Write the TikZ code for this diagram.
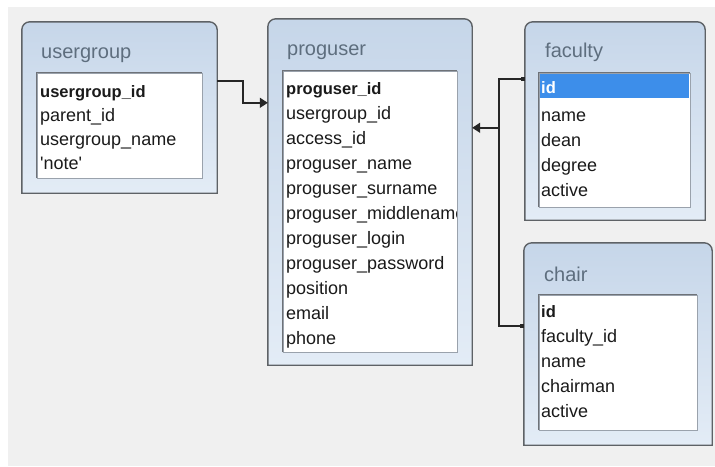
\documentclass[tikz,border=0pt]{standalone}
\usepackage{fontspec}
\setmainfont{Liberation Sans}
\usetikzlibrary{arrows.meta,calc}
\definecolor{bggray}{HTML}{F0F0F0}
\definecolor{boxtop}{HTML}{C6D6E9}
\definecolor{boxbot}{HTML}{E3ECF6}
\definecolor{boxline}{HTML}{5E6266}
\definecolor{titlecol}{HTML}{5E6E7E}
\definecolor{listline}{HTML}{9AA2AC}
\definecolor{listdark}{HTML}{6E7278}
\definecolor{selblue}{HTML}{3D8EEA}
\definecolor{rowtext}{HTML}{1A1A1A}
\newcommand\tblshape[1]{%
  \draw[tblborder] ([yshift=-8pt]#1.north west) arc[start angle=180,end angle=90,radius=8pt]
    -- ([xshift=-8pt]#1.north east) arc[start angle=90,end angle=0,radius=8pt]
    -- (#1.south east) -- (#1.south west) -- cycle;}
\begin{document}
\begin{tikzpicture}[x=1pt,y=-1pt,
  tblbox/.style={inner sep=0pt, draw=none},
  tblborder/.style={draw=boxline, line width=1.4pt, top color=boxtop, bottom color=boxbot},
  listbox/.style={inner sep=0pt, fill=white, draw=listline, line width=0.8pt},
  ttl/.style={anchor=west, inner sep=0pt, text=titlecol, font=\fontsize{20}{22}\selectfont},
  row/.style={anchor=west, inner sep=0pt, text height=12pt, text depth=0pt, text=rowtext, font=\fontsize{18}{20}\selectfont},
  keyrow/.style={row, font=\fontsize{16.5}{20}\selectfont\bfseries},
  conn/.style={draw=black!85, line width=1.5pt},
  dotstart/.style={{Square[length=4pt,width=4pt]}-},
  arr/.style={-{Triangle[length=8pt,width=10pt]}}
]
\useasboundingbox (0,0) rectangle (715,466);
\fill[white] (0,0) rectangle (715,466);
\fill[bggray] (8,7) rectangle (715,466);

% ---------- usergroup ----------
\node[tblbox, minimum width=195pt, minimum height=171pt] (usergroup) at (119.5,107.5) {};
\tblshape{usergroup}
\node[ttl] (usergroup-t) at (41,55) {usergroup};
\node[listbox, minimum width=165pt, minimum height=105pt] (usergroup-l) at (119.5,125.5) {};
\draw[listdark, line width=1pt] (usergroup-l.south west) -- (usergroup-l.north west) -- (usergroup-l.north east);
\node[keyrow] (ug1) at (40,91) {usergroup\_id};
\node[row] (ug2) at (40,115) {parent\_id};
\node[row] (ug3) at (40,139) {usergroup\_name};
\node[row] (ug4) at (40,163) {\textquotesingle note\textquotesingle};

% ---------- proguser ----------
\node[tblbox, minimum width=204pt, minimum height=346pt] (proguser) at (370,192) {};
\tblshape{proguser}
\node[ttl] (proguser-t) at (287,52) {proguser};
\node[listbox, minimum width=174pt, minimum height=281pt] (proguser-l) at (370,211.5) {};
\draw[listdark, line width=1pt] (proguser-l.south west) -- (proguser-l.north west) -- (proguser-l.north east);
\begin{scope}
\clip (283,71) rectangle (456,352);
\node[keyrow] (pu1) at (286,88) {proguser\_id};
\node[row] (pu2) at (286,113) {usergroup\_id};
\node[row] (pu3) at (286,138) {access\_id};
\node[row] (pu4) at (286,163) {proguser\_name};
\node[row] (pu5) at (286,188) {proguser\_surname};
\node[row] (pu6) at (286,213) {proguser\_middlename};
\node[row] (pu7) at (286,238) {proguser\_login};
\node[row] (pu8) at (286,263) {proguser\_password};
\node[row] (pu9) at (286,288) {position};
\node[row] (pu10) at (286,313) {email};
\node[row] (pu11) at (286,338) {phone};
\end{scope}

% ---------- faculty ----------
\node[tblbox, minimum width=180pt, minimum height=198pt] (faculty) at (615,121) {};
\tblshape{faculty}
\node[ttl] (faculty-t) at (545,52) {faculty};
\node[listbox, minimum width=151pt, minimum height=134pt] (faculty-l) at (614.5,140) {};
\draw[listdark, line width=1pt] (faculty-l.south west) -- (faculty-l.north west) -- (faculty-l.north east);
\fill[selblue] (540,74) rectangle (689,98);
\node[keyrow, text=white] (fa1) at (541,87) {id};
\node[row] (fa2) at (541,115) {name};
\node[row] (fa3) at (541,140) {dean};
\node[row] (fa4) at (541,165) {degree};
\node[row] (fa5) at (541,190) {active};

% ---------- chair ----------
\node[tblbox, minimum width=188pt, minimum height=202pt] (chair) at (618,344) {};
\tblshape{chair}
\node[ttl] (chair-t) at (544,274) {chair};
\node[listbox, minimum width=158pt, minimum height=135pt] (chair-l) at (618,362.5) {};
\draw[listdark, line width=1pt] (chair-l.south west) -- (chair-l.north west) -- (chair-l.north east);
\node[keyrow] (ch1) at (541,311) {id};
\node[row] (ch2) at (541,336) {faculty\_id};
\node[row] (ch3) at (541,361) {name};
\node[row] (ch4) at (541,386) {chairman};
\node[row] (ch5) at (541,411) {active};

% ---------- connectors ----------
\draw[conn, dotstart, arr] ([yshift=-59pt]usergroup.north east) -- ++(26,0) |- ([yshift=-84pt]proguser.north west);
\draw[conn, {Square[length=4pt,width=4pt]}-{Square[length=4pt,width=4pt]}]
  ([yshift=-57pt]faculty.north west) -- ++(-26,0) coordinate (junc) |- ([yshift=-83pt]chair.north west);
\coordinate (pu-in) at ([yshift=-109pt]proguser.north east);
\draw[conn, arr] (junc |- pu-in) -- (pu-in);
\end{tikzpicture}
\end{document}
